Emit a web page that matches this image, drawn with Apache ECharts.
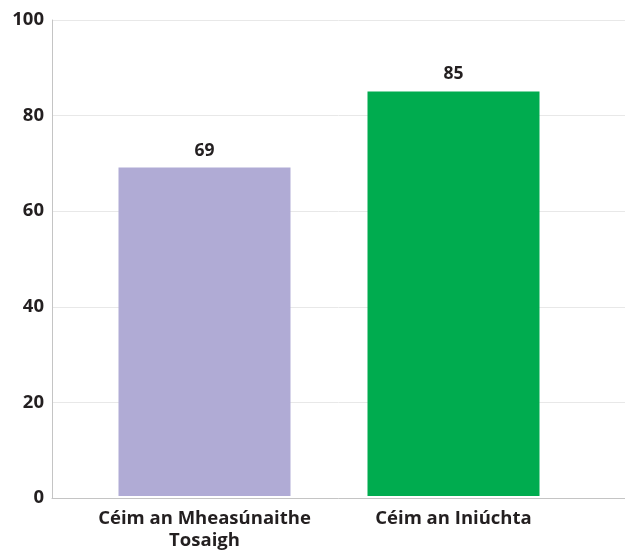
<!DOCTYPE html>
<html><head><meta charset="utf-8">
<script src="https://cdn.jsdelivr.net/npm/echarts@6/dist/echarts.min.js"></script>
<style>html,body{margin:0;padding:0;background:#fff}#c{width:625px;height:552px}</style>
</head><body><div id="c"></div>
<script>
var categories = ['Céim an Mheasúnaithe\nTosaigh', 'Céim an Iniúchta'];
var values = [69, 85];
var barColors = ['#b0abd5', '#00ac4f'];
var yTicks = [0, 20, 40, 60, 80, 100];

var font = '"Open Sans", "Noto Sans", sans-serif';
var chart = echarts.init(document.getElementById('c'));
chart.setOption({
  animation: false,
  grid: [
    {left: 52, right: 0, top: 20, bottom: 54},
    {left: 80, width: 498, top: 20, bottom: 54}
  ],
  xAxis: [
    {gridIndex: 0, type: 'category', data: ['', ''], axisLine: {lineStyle: {color: '#c4c4c4'}}, axisTick: {show: false}, axisLabel: {show: false}},
    {gridIndex: 1, type: 'category', data: categories, axisLine: {show: false}, axisTick: {show: false},
     axisLabel: {interval: 0, hideOverlap: false, margin: 12, color: '#231f20', fontFamily: font, fontWeight: 'bold', fontSize: 18.5, lineHeight: 22}}
  ],
  yAxis: [
    {gridIndex: 0, type: 'value', min: 0, max: 100, interval: 20,
     axisLine: {show: true, lineStyle: {color: '#c4c4c4'}}, axisTick: {show: false},
     splitLine: {lineStyle: {color: '#e8e8e8'}},
     axisLabel: {margin: 8, color: '#231f20', fontFamily: font, fontWeight: 'bold', fontSize: 18.5,
       formatter: function (v) { return yTicks.indexOf(v) >= 0 ? String(v) : ''; }}},
    {gridIndex: 1, type: 'value', min: 0, max: 100, interval: 20, show: false, splitLine: {show: false}}
  ],
  series: [{
    type: 'bar', xAxisIndex: 1, yAxisIndex: 1, barWidth: 172,
    data: values.map(function (v, i) { return {value: v, itemStyle: {color: barColors[i]}}; }),
    label: {show: true, position: 'top', distance: 8, color: '#231f20', fontFamily: font, fontWeight: 'bold', fontSize: 17.5}
  }]
});
</script></body></html>
